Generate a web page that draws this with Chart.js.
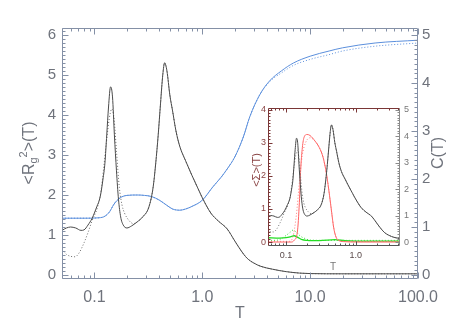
<!DOCTYPE html>
<html>
<head>
<meta charset="utf-8">
<script src="https://cdn.jsdelivr.net/npm/chart.js@4"></script>
<style>
html,body{margin:0;padding:0;background:#fff;}
#wrap{position:relative;width:471px;height:336px;}
#main{position:absolute;left:0;top:0;}
#inset{position:absolute;left:240px;top:96px;}
</style>
</head>
<body>
<div id="wrap">
<canvas id="main" width="471" height="336"></canvas>
<canvas id="inset" width="180" height="180"></canvas>
</div>
<script>
// specific heat C(T), solid and dotted
var tC = [0.05,0.055,0.06,0.067,0.075,0.08,0.087,0.095,0.105,0.113,0.12,0.125,0.13,0.135,0.141,0.147,0.153,0.16,0.167,0.175,0.185,0.2,0.22,0.25,0.28,0.32,0.35,0.37,0.39,0.41,0.43,0.447,0.47,0.5,0.53,0.57,0.62,0.7,0.8,0.9,1.0,1.2,1.4,1.7,2.0,2.3,2.6,3.0,3.5,4.5,6,8,10,20,50,100];
var cSolid = [0.93,0.98,1.0,0.98,0.93,0.94,1.04,1.18,1.42,1.63,2.0,2.33,2.92,3.5,3.92,3.71,2.92,2.17,1.58,1.21,1.04,0.98,1.02,1.11,1.21,1.42,1.83,2.33,2.92,3.58,4.17,4.42,4.25,3.75,3.42,3.0,2.67,2.38,2.08,1.83,1.61,1.29,1.13,0.96,0.71,0.5,0.35,0.25,0.18,0.12,0.07,0.04,0.03,0.025,0.025,0.025];
var tCdot = [0.05,0.055,0.06,0.066,0.072,0.08,0.087,0.095,0.107,0.115,0.122,0.13,0.137,0.145,0.152,0.16,0.17,0.18,0.19,0.21,0.23,0.25,0.28,0.32,0.35,0.37,0.39,0.41,0.43,0.447,0.47,0.5,0.53,0.57,0.62,0.7,0.8,0.9,1.0,1.2,1.4,1.7,2.0,2.3,2.6,3.0,3.5,4.5,6,8,10,20,50,100];
var cDotted = [0.54,0.43,0.39,0.38,0.46,0.67,0.88,1.13,1.42,1.75,2.25,2.83,3.25,3.46,3.25,2.58,1.83,1.46,1.29,1.13,1.07,1.11,1.21,1.42,1.83,2.33,2.92,3.58,4.17,4.42,4.25,3.75,3.42,3.0,2.67,2.38,2.08,1.83,1.61,1.29,1.13,0.96,0.71,0.5,0.35,0.25,0.18,0.12,0.07,0.04,0.03,0.025,0.025,0.025];

// radius of gyration <Rg^2>(T)
var tRg = [0.05,0.08,0.11,0.125,0.138,0.15,0.16,0.178,0.2,0.25,0.29,0.34,0.4,0.47,0.53,0.62,0.7,0.81,1.0,1.25,1.5,1.7,2.0,2.4,2.75,3.4,4.2,5.4,7,10,15,20,40,100];
var rgSolid = [1.42,1.42,1.43,1.47,1.58,1.75,1.85,1.95,1.99,2.0,1.99,1.96,1.87,1.74,1.65,1.62,1.65,1.72,1.87,2.2,2.45,2.65,2.95,3.45,3.95,4.5,4.85,5.1,5.3,5.47,5.6,5.68,5.8,5.87];
var rgDotted = [1.42,1.42,1.43,1.47,1.58,1.75,1.85,1.95,1.99,2.0,1.99,1.96,1.87,1.74,1.65,1.62,1.65,1.72,1.87,2.2,2.45,2.65,2.95,3.45,3.95,4.5,4.83,5.05,5.24,5.39,5.51,5.6,5.72,5.8];

// inset <Sigma>(T)
var tRed = [0.055,0.12,0.13,0.145,0.155,0.162,0.17,0.18,0.2,0.22,0.26,0.3,0.34,0.38,0.42,0.45,0.48,0.52,0.58,0.7,1,4.5];
var redSolid = [0,0,0.05,0.3,1.2,2.2,2.8,3.15,3.25,3.22,3.05,2.85,2.55,2.05,1.4,0.9,0.45,0.15,0.04,0.01,0,0];
var tRedDot = [0.055,0.11,0.125,0.14,0.155,0.17,0.19,0.22,0.26,0.3,0.34,0.38,0.42,0.45,0.48,0.52,0.58,0.7,1,4.5];
var redDotted = [0.02,0.02,0.15,0.8,1.8,2.6,3.0,3.15,3.05,2.85,2.55,2.05,1.4,0.9,0.45,0.15,0.04,0.02,0.02,0.02];
var tGreen = [0.055,0.08,0.1,0.12,0.13,0.145,0.17,0.2,0.3,0.5,0.7,1,4.5];
var greenSolid = [0.13,0.12,0.13,0.17,0.19,0.15,0.07,0.05,0.04,0.07,0.04,0.03,0.03];
var tGreenDot = [0.055,0.07,0.085,0.1,0.115,0.125,0.14,0.16,0.19,0.22,0.4,1,4.5];
var greenDotted = [0.05,0.05,0.1,0.2,0.3,0.36,0.3,0.18,0.1,0.06,0.05,0.05,0.05];

var xTicksMain = [0.1, 1, 10, 100];
var xTicksInset = [0.1, 1];
var yTicksRg = [0, 1, 2, 3, 4, 5, 6];
var yTicksC = [0, 1, 2, 3, 4, 5];
var yTicksSig = [0, 1, 2, 3, 4];

function pts(xs, ys) {
    var out = [];
    for (var i = 0; i < xs.length; i++) out.push({x: xs[i], y: ys[i]});
    return out;
}
function fmtT(v) { return v >= 1 ? v.toFixed(1) : String(v); }

function seg(ctx, x1, y1, x2, y2, c) {
    ctx.strokeStyle = c;
    ctx.beginPath(); ctx.moveTo(x1, y1); ctx.lineTo(x2, y2); ctx.stroke();
}

// IDL style box with inward ticks on all four sides
var frame = {
    id: 'frame',
    afterDatasetsDraw: function(chart, args, o) {
        var ctx = chart.ctx, a = chart.chartArea;
        var xs = chart.scales.x, yl = chart.scales.yL, yr = chart.scales.yR;
        var L = Math.round(a.left) + 0.5, R = Math.round(a.right) - 0.5;
        var T = Math.round(a.top) + 0.5, B = Math.round(a.bottom) - 0.5;
        ctx.save();
        ctx.lineWidth = 1;
        var lo = Math.floor(Math.log10(xs.min)), hi = Math.ceil(Math.log10(xs.max));
        for (var d = lo; d <= hi; d++) {
            for (var k = 1; k < 10; k++) {
                var v = k * Math.pow(10, d);
                if (v < xs.min || v > xs.max) continue;
                var px = Math.round(xs.getPixelForValue(v)) + 0.5;
                var len = k == 1 ? o.major : o.minor;
                seg(ctx, px, B, px, B - len, o.cBottom);
                seg(ctx, px, T, px, T + len, o.cTop);
            }
        }
        var i, py;
        for (i = 0; i * o.stepL <= yl.max + 1e-9; i++) {
            py = Math.round(yl.getPixelForValue(i * o.stepL)) + 0.5;
            seg(ctx, L, py, L + (i % o.everyL == 0 ? o.major : o.minor), py, o.cLeft);
        }
        for (i = 0; i * o.stepR <= yr.max + 1e-9; i++) {
            py = Math.round(yr.getPixelForValue(i * o.stepR)) + 0.5;
            seg(ctx, R, py, R - (i % o.everyR == 0 ? o.major : o.minor), py, o.cRight);
        }
        seg(ctx, L, B, R, B, o.cBottom);
        seg(ctx, L, T, R, T, o.cTop);
        seg(ctx, L, T, L, B, o.cLeft);
        seg(ctx, R, T, R, B, o.cRight);
        ctx.restore();
    }
};

// titles with sub/superscripts, drawn as text runs
function runWidth(ctx, parts, fam) {
    var w = 0;
    parts.forEach(function(p) { ctx.font = p.s + 'px ' + fam; w += ctx.measureText(p.t).width; });
    return w;
}
function drawRuns(ctx, parts, x, y, rot, color, fam) {
    ctx.save();
    ctx.translate(x, y);
    if (rot) ctx.rotate(rot);
    ctx.fillStyle = color;
    ctx.textBaseline = 'middle';
    ctx.textAlign = 'left';
    var cx = -runWidth(ctx, parts, fam) / 2;
    parts.forEach(function(p) {
        ctx.font = p.s + 'px ' + fam;
        ctx.fillText(p.t, cx, p.dy || 0);
        cx += ctx.measureText(p.t).width;
    });
    ctx.restore();
}
var titles = {
    id: 'titles',
    afterDraw: function(chart, args, o) {
        o.items.forEach(function(it) {
            drawRuns(chart.ctx, it.parts, it.x, it.y, it.rot, it.color, o.family);
        });
    }
};

var fam = "'Liberation Sans', Arial, sans-serif";
var gray = '#6f737c';
var axisGray = '#8490a6';

function logAxis(min, max, list, size, color, pad, h) {
    return {
        type: 'logarithmic', min: min, max: max,
        grid: {display: false, drawTicks: false}, border: {display: false},
        afterBuildTicks: function(s) { s.ticks = list.map(function(v) { return {value: v}; }); },
        afterFit: function(s) { s.height = h; },
        ticks: {autoSkip: false, maxRotation: 0, padding: pad, color: color,
                font: {family: fam, size: size}, callback: function(v) { return fmtT(v); }}
    };
}
function linAxis(pos, min, max, list, size, color, pad, w) {
    return {
        type: 'linear', position: pos, min: min, max: max,
        grid: {display: false, drawTicks: false}, border: {display: false},
        afterBuildTicks: function(s) { s.ticks = list.map(function(v) { return {value: v}; }); },
        afterFit: function(s) { s.width = w; },
        ticks: {autoSkip: false, padding: pad, color: color,
                font: {family: fam, size: size}, callback: function(v) { return String(v); }}
    };
}

new Chart(document.getElementById('main'), {
    type: 'line',
    data: {
        datasets: [
            {data: pts(tC, cSolid), yAxisID: 'yR', borderColor: '#4a4a4a', borderWidth: 1},
            {data: pts(tCdot, cDotted), yAxisID: 'yR', borderColor: '#6a6a6a', borderWidth: 1, borderDash: [1, 2]},
            {data: pts(tRg, rgDotted), yAxisID: 'yL', borderColor: '#5b8fdc', borderWidth: 1, borderDash: [1, 2]},
            {data: pts(tRg, rgSolid), yAxisID: 'yL', borderColor: '#5b8fdc', borderWidth: 1}
        ]
    },
    options: {
        responsive: false, animation: false, devicePixelRatio: 1,
        layout: {padding: {top: 28, left: 0, right: 0, bottom: 0}},
        elements: {point: {radius: 0}, line: {cubicInterpolationMode: 'monotone', fill: false}},
        plugins: {
            legend: {display: false}, tooltip: {enabled: false},
            frame: {major: 6, minor: 3, stepL: 0.1, everyL: 10, stepR: 0.1, everyR: 10,
                    cLeft: axisGray, cRight: axisGray, cTop: axisGray, cBottom: axisGray},
            titles: {family: fam, items: [
                {parts: [{t: '<R', s: 16}, {t: 'g', s: 11, dy: 4}, {t: '2', s: 11, dy: -6}, {t: '>(T)', s: 16}],
                 x: 30, y: 153, rot: -Math.PI / 2, color: gray},
                {parts: [{t: 'C(T)', s: 16}], x: 439, y: 153, rot: -Math.PI / 2, color: gray},
                {parts: [{t: 'T', s: 16}], x: 240, y: 314, rot: 0, color: gray}
            ]}
        },
        scales: {
            x: logAxis(0.05, 100, xTicksMain, 16, gray, 9, 57),
            yL: linAxis('left', -0.1, 6.175, yTicksRg, 15, gray, 6, 62),
            yR: linAxis('right', -0.083, 5.146, yTicksC, 15, gray, 4, 53)
        }
    },
    plugins: [frame, titles]
});

var brown = '#8a4444';
new Chart(document.getElementById('inset'), {
    type: 'line',
    data: {
        datasets: [
            {data: pts(tC, cSolid), yAxisID: 'yR', borderColor: '#4a4a4a', borderWidth: 1},
            {data: pts(tCdot, cDotted), yAxisID: 'yR', borderColor: '#777', borderWidth: 1, borderDash: [1, 2]},
            {data: pts(tRedDot, redDotted), yAxisID: 'yL', borderColor: '#ff7a7a', borderWidth: 1, borderDash: [1, 2]},
            {data: pts(tRed, redSolid), yAxisID: 'yL', borderColor: '#ff6060', borderWidth: 1},
            {data: pts(tGreenDot, greenDotted), yAxisID: 'yL', borderColor: '#33dd33', borderWidth: 1, borderDash: [1, 2]},
            {data: pts(tGreen, greenSolid), yAxisID: 'yL', borderColor: '#22dd22', borderWidth: 1.3}
        ]
    },
    options: {
        responsive: false, animation: false, devicePixelRatio: 1,
        layout: {padding: {top: 12, left: 0, right: 0, bottom: 0}},
        elements: {point: {radius: 0}, line: {cubicInterpolationMode: 'monotone', fill: false}},
        plugins: {
            legend: {display: false}, tooltip: {enabled: false},
            frame: {major: 4, minor: 2, stepL: 0.1, everyL: 10, stepR: 0.1, everyR: 10,
                    cLeft: '#7a3636', cRight: '#8a8a8a', cTop: '#7a3636', cBottom: '#555555'},
            titles: {family: fam, items: [
                {parts: [{t: '<\u03A3>(T)', s: 11}], x: 17, y: 74, rot: -Math.PI / 2, color: brown},
                {parts: [{t: 'T', s: 10}], x: 93, y: 171, rot: 0, color: '#777'}
            ]}
        },
        scales: {
            x: logAxis(0.055, 4.3, xTicksInset, 9, '#5a4a4a', 4, 30),
            yL: linAxis('left', -0.12, 4.05, yTicksSig, 9, brown, 2, 28),
            yR: linAxis('right', -0.15, 5.06, yTicksC, 9, '#777', 4, 20)
        }
    },
    plugins: [frame, titles]
});
</script>
</body>
</html>
